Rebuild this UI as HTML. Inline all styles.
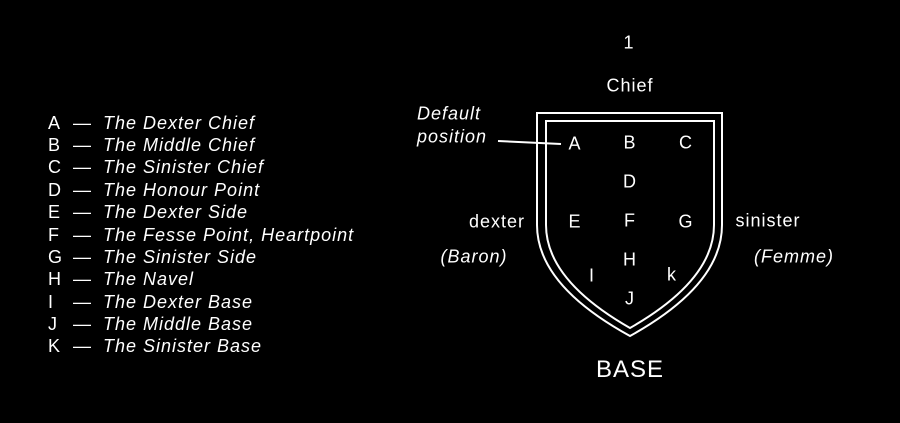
<!DOCTYPE html>
<html><head><style>
body{margin:0;background:#000;width:900px;height:423px;overflow:hidden;font-family:"Liberation Sans",sans-serif;color:#fff}
.l{position:absolute;left:48px;font-size:18px;letter-spacing:1px;white-space:nowrap}
.l span{display:inline-block;width:25px}
.l i{position:absolute;left:55px}
.t{position:absolute;font-size:18px;letter-spacing:1px;transform:translate(-50%,-50%);white-space:nowrap}
</style></head><body>
<div class="l" style="top:113px"><span>A</span>— <i>The Dexter Chief</i></div>
<div class="l" style="top:135px"><span>B</span>— <i>The Middle Chief</i></div>
<div class="l" style="top:157px"><span>C</span>— <i>The Sinister Chief</i></div>
<div class="l" style="top:180px"><span>D</span>— <i>The Honour Point</i></div>
<div class="l" style="top:202px"><span>E</span>— <i>The Dexter Side</i></div>
<div class="l" style="top:225px"><span>F</span>— <i>The Fesse Point, Heartpoint</i></div>
<div class="l" style="top:247px"><span>G</span>— <i>The Sinister Side</i></div>
<div class="l" style="top:269px"><span>H</span>— <i>The Navel</i></div>
<div class="l" style="top:292px"><span>I</span>— <i>The Dexter Base</i></div>
<div class="l" style="top:314px"><span>J</span>— <i>The Middle Base</i></div>
<div class="l" style="top:336px"><span>K</span>— <i>The Sinister Base</i></div>
<svg width="900" height="423" style="position:absolute;left:0;top:0">
<path d="M537,113 H722 V225 Q722,285 630,336 Q537,285 537,225 Z" fill="none" stroke="#fff" stroke-width="2"/>
<path d="M546,121 H714 V225 Q714,280 630,328 Q546,280 546,225 Z" fill="none" stroke="#fff" stroke-width="2"/>
<line x1="498" y1="141" x2="561" y2="144" stroke="#fff" stroke-width="2"/>
</svg>
<div class="t" style="left:629px;top:43px">1</div>
<div class="t" style="left:630px;top:86px">Chief</div>
<div class="t" style="left:449px;top:114px"><i>Default</i></div>
<div class="t" style="left:452px;top:137px"><i>position</i></div>
<div class="t" style="left:575px;top:144px">A</div>
<div class="t" style="left:630px;top:143px">B</div>
<div class="t" style="left:686px;top:143px">C</div>
<div class="t" style="left:630px;top:182px">D</div>
<div class="t" style="left:575px;top:222px">E</div>
<div class="t" style="left:630px;top:221px">F</div>
<div class="t" style="left:686px;top:222px">G</div>
<div class="t" style="left:630px;top:260px">H</div>
<div class="t" style="left:592px;top:276px">I</div>
<div class="t" style="left:672px;top:275px">k</div>
<div class="t" style="left:630px;top:299px">J</div>
<div class="t" style="left:497px;top:222px">dexter</div>
<div class="t" style="left:768px;top:221px">sinister</div>
<div class="t" style="left:474px;top:257px"><i>(Baron)</i></div>
<div class="t" style="left:794px;top:257px"><i>(Femme)</i></div>
<div class="t" style="left:630px;top:370px;font-size:24px">BASE</div>
</body></html>
